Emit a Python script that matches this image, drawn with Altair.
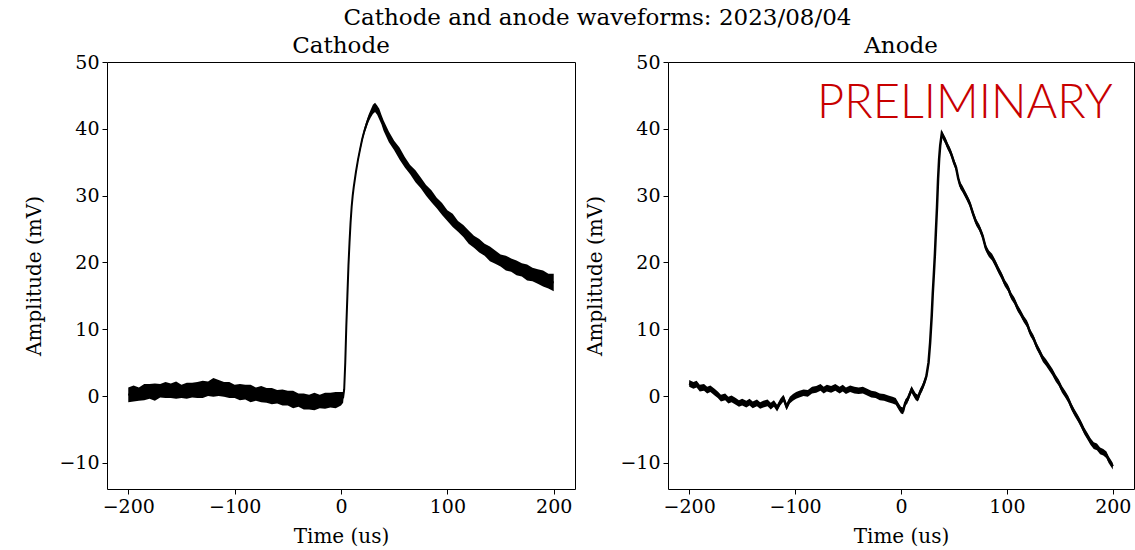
import altair as alt
import pandas as pd

# ---------------- data ----------------
# Cathode: time (us), centre of the trace (mV), half-thickness of the noisy band (mV)
cathode_t = [-200, -195, -190, -185, -180, -175, -170, -165, -160, -155, -150, -145, -140, -135,
             -130, -125, -120, -115, -110, -105, -100, -95, -90, -85, -80, -75, -70, -65, -60,
             -55, -50, -45, -40, -35, -30, -25, -20, -15, -10, -5, 0,
             2, 3, 4, 5, 6, 7, 8, 9, 10, 11, 12, 14, 16, 18, 20, 22, 24, 26, 28, 30, 32, 34, 36, 38, 40,
             45, 50, 55, 60, 65, 70, 75, 80, 85, 90, 95, 100, 105, 110, 115, 120, 125, 130, 135,
             140, 145, 150, 155, 160, 165, 170, 175, 180, 185, 190, 195, 200]
cathode_v = [0.2, 0.4, 0.3, 0.6, 0.7, 0.6, 0.8, 0.9, 0.8, 0.9, 0.7, 0.8, 0.9, 0.9,
             1.0, 1.1, 1.3, 1.2, 1.0, 0.9, 0.7, 0.6, 0.6, 0.4, 0.3, 0.3, 0.1, 0.0, -0.1,
             -0.2, -0.3, -0.5, -0.6, -0.8, -0.9, -0.8, -0.8, -0.7, -0.6, -0.6, -0.4,
             -0.2, 1.0, 5.0, 10.5, 15.0, 19.5, 23.0, 26.0, 28.3, 30.0, 31.3, 33.5, 35.4, 37.0, 38.5,
             39.7, 40.7, 41.6, 42.3, 42.9, 43.2, 42.8, 42.2, 41.4, 40.5,
             38.8, 37.5, 36.3, 35.0, 33.9, 32.9, 31.9, 30.8, 29.9, 28.9, 28.0, 27.0, 26.3, 25.4, 24.7,
             23.8, 23.1, 22.5, 21.9, 21.3, 20.8, 20.3, 19.9, 19.6, 19.2, 18.9, 18.5, 18.2, 17.9,
             17.6, 17.2, 17.0]
cathode_w = [1.1, 1.2, 1.0, 1.2, 1.1, 1.3, 1.0, 1.2, 1.1, 1.3, 1.0, 1.2, 1.1, 1.2,
             1.3, 1.1, 1.4, 1.2, 1.1, 1.2, 1.0, 1.2, 1.1, 1.3, 1.0, 1.2, 1.1, 1.2, 1.0,
             1.2, 1.1, 1.3, 1.0, 1.2, 1.1, 1.3, 1.0, 1.2, 1.1, 1.2, 1.0,
             0.8, 0.2, 0.1, 0.1, 0.1, 0.1, 0.1, 0.1, 0.15, 0.15, 0.2, 0.25, 0.3, 0.35, 0.4,
             0.45, 0.5, 0.55, 0.6, 0.7, 0.7, 0.7, 0.8, 0.7, 0.8,
             0.8, 0.7, 0.9, 0.8, 0.7, 0.9, 0.8, 0.8, 0.9, 0.8, 0.9, 0.8, 1.0, 0.8, 0.9,
             1.0, 0.9, 1.0, 0.9, 1.1, 1.0, 0.9, 1.1, 1.0, 1.1, 1.0, 1.2, 1.0, 1.1,
             1.2, 1.1, 1.3]

# Anode: time (us), centre of the trace (mV)
anode_t = [-200, -196, -193, -190, -186, -183, -180, -176, -173, -170, -166, -163,
           -160, -156, -153, -150, -146, -143, -140, -136, -133, -130, -126, -123,
           -120, -117, -114, -111, -108, -105, -102, -99, -96, -92, -88, -84,
           -80, -76, -73, -70, -66, -62, -58, -55, -52, -48, -44, -40, -36, -32,
           -28, -24, -20, -16, -12, -8, -5, -2, 0, 2, 4, 6, 8, 10, 12, 14, 16, 18, 20, 22,
           24, 26, 27.5, 29, 30, 31, 32, 33, 34, 35, 36, 37, 38.5,
           40, 42, 44, 46, 48, 50, 52, 54, 56, 58, 60, 62, 65, 68, 71, 74, 77, 80, 83, 86, 89,
           92, 95, 98, 101, 104, 107, 110, 113, 116, 119, 122, 125, 128, 131, 134, 137, 140,
           143, 146, 149, 152, 155, 158, 161, 164, 167, 170, 173, 176, 179, 182, 185, 188,
           191, 194, 196, 198, 200]
anode_v = [1.9, 1.6, 1.8, 1.2, 1.3, 0.9, 1.1, 0.6, 0.2, -0.3, -0.1, -0.6,
           -0.4, -0.8, -1.1, -0.9, -1.2, -0.9, -1.3, -1.0, -1.4, -1.2, -1.0, -1.5,
           -1.1, -1.8, -0.9, -0.3, -1.6, -0.6, -0.2, 0.1, 0.3, 0.5, 0.4, 0.9,
           1.0, 1.3, 0.9, 1.2, 1.0, 1.3, 0.9, 1.2, 0.8, 1.1, 0.9, 0.8, 0.9, 0.6,
           0.3, 0.2, -0.1, -0.2, -0.4, -0.6, -0.8, -1.6, -2.1, -2.2, -1.0, -0.6, 0.2, 1.0, 0.4, -0.1, -0.3, 0.6, 1.2, 2.0,
           3.0, 5.0, 8.0, 12.0, 15.4, 18.2, 21.2, 24.8, 28.3, 32.5, 35.5, 37.5, 39.3,
           38.8, 38.2, 37.4, 36.8, 36.0, 35.0, 34.2, 32.6, 31.5, 31.0, 30.4, 29.8, 28.8, 27.3, 26.0,
           25.2, 24.0, 22.2, 21.3, 20.8, 19.9,
           18.9, 18.0, 16.9, 16.2, 15.0, 14.3, 13.2, 12.4, 11.5, 10.8, 9.5, 8.7, 7.5, 6.6, 5.6, 5.0, 4.3,
           3.6, 2.7, 2.0, 1.0, 0.3, -0.5, -1.6, -2.5, -3.3, -4.2, -5.2, -6.0, -6.8, -7.4, -7.6, -8.2,
           -8.4, -8.8, -9.5, -10.0, -10.5]
anode_halfwidth = 0.5

x_ticks = [-200, -100, 0, 100, 200]
y_ticks = [-10, 0, 10, 20, 30, 40, 50]

cath = pd.DataFrame({"t": cathode_t, "v": cathode_v, "w": cathode_w})
cath["lo"] = cath["v"] - cath["w"]
cath["hi"] = cath["v"] + cath["w"]
anod = pd.DataFrame({"t": anode_t, "v": anode_v})
anod["lo"] = anod["v"] - anode_halfwidth
anod["hi"] = anod["v"] + anode_halfwidth

stamp = pd.DataFrame({"t": [200], "v": [41.6], "label": ["PRELIMINARY"]})

SERIF = "DejaVu Serif"

xscale = alt.Scale(domain=[-220, 220], nice=False, zero=False)
yscale = alt.Scale(domain=[-13.9, 50], nice=False, zero=False)


def panel(df, title, width, lw, extra=None):
    base = alt.Chart(df)
    band = base.mark_area(color="black", opacity=1).encode(
        x=alt.X("t:Q", scale=xscale,
                axis=alt.Axis(values=x_ticks, title="Time (us)")),
        y=alt.Y("lo:Q", scale=yscale,
                axis=alt.Axis(values=y_ticks, title="Amplitude (mV)")),
        y2="hi:Q",
    )
    line = base.mark_line(color="black", strokeWidth=lw).encode(
        x=alt.X("t:Q", scale=xscale), y=alt.Y("v:Q", scale=yscale)
    )
    layers = [band, line]
    if extra is not None:
        layers.append(extra)
    return alt.layer(*layers).properties(
        width=width, height=427,
        title=alt.TitleParams(title, font=SERIF, fontSize=23, fontWeight="normal",
                              color="black", anchor="middle", frame="group", offset=-5),
    )


stamp_text = alt.Chart(stamp).mark_text(
    align="right", baseline="alphabetic", font="Lato", fontWeight=300,
    fontSize=47, color="#c80000"
).encode(x=alt.X("t:Q", scale=xscale), y=alt.Y("v:Q", scale=yscale), text="label:N")

left = panel(cath, "Cathode", 468, 2)
right = panel(anod, "Anode", 466, 2.5, stamp_text)

chart = alt.hconcat(left, right, spacing=9).properties(
    title=alt.TitleParams("Cathode and anode waveforms: 2023/08/04", font=SERIF, fontSize=23,
                          fontWeight="normal", color="black", anchor="middle", offset=5, dx=18),
    padding={"left": 24, "top": 6, "right": 0, "bottom": 0},
    background="white",
).configure_view(
    stroke="black", strokeWidth=1
).configure_axis(
    grid=False, domain=False, tickColor="black", tickSize=5, tickWidth=1,
    labelFont=SERIF, labelFontSize=19, labelColor="black", labelPadding=3,
    titleFont=SERIF, titleFontSize=20, titleFontWeight="normal", titleColor="black",
).configure_axisX(
    titlePadding=10
).configure_axisY(
    titlePadding=14
)

chart.save("out.html", embed_options={"renderer": "svg", "actions": False})
